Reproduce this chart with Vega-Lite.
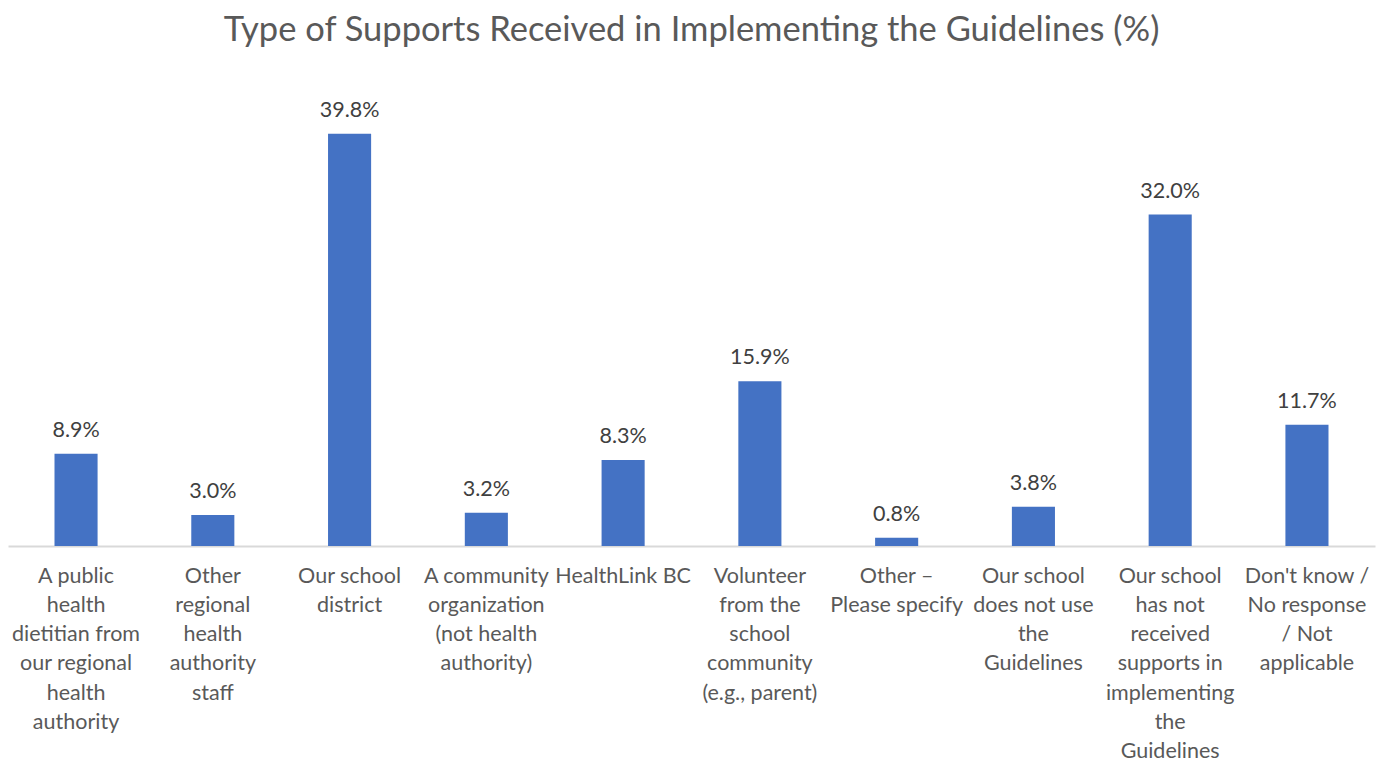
{
  "$schema": "https://vega.github.io/schema/vega-lite/v6.json",
  "width": 1367,
  "height": 466,
  "padding": {"left": 8, "right": 13, "top": 12, "bottom": 5},
  "background": "white",
  "title": {
    "text": "Type of Supports Received in Implementing the Guidelines (%)",
    "fontSize": 34.5,
    "font": "Lato",
    "fontWeight": "normal",
    "color": "#595959",
    "anchor": "middle",
    "offset": 32
  },
  "config": {"view": {"stroke": null}, "font": "Lato"},
  "data": {
    "values": [
      {"label": "A public|health|dietitian from|our regional|health|authority", "value": 8.9},
      {"label": "Other|regional|health|authority|staff", "value": 3.0},
      {"label": "Our school|district", "value": 39.8},
      {"label": "A community|organization|(not health|authority)", "value": 3.2},
      {"label": "HealthLink BC", "value": 8.3},
      {"label": "Volunteer|from the|school|community|(e.g., parent)", "value": 15.9},
      {"label": "Other –|Please specify", "value": 0.8},
      {"label": "Our school|does not use|the|Guidelines", "value": 3.8},
      {"label": "Our school|has not|received|supports in|implementing|the|Guidelines", "value": 32.0},
      {"label": "Don't know /|No response|/ Not|applicable", "value": 11.7}
    ]
  },
  "encoding": {
    "x": {
      "field": "label",
      "type": "nominal",
      "sort": null,
      "scale": {"paddingInner": 0.685, "paddingOuter": 0.34},
      "axis": {
        "title": null,
        "labelAngle": 0,
        "labelExpr": "split(datum.label, '|')",
        "labelFontSize": 21.5,
        "labelColor": "#595959",
        "labelLineHeight": 29.3,
        "labelBaseline": "top",
        "labelPadding": 19,
        "labelFont": "Lato",
        "ticks": false,
        "domainColor": "#D9D9D9",
        "domainWidth": 2,
        "labelLimit": 200
      }
    },
    "y": {
      "field": "value",
      "type": "quantitative",
      "scale": {"domain": [0, 45]},
      "axis": null
    }
  },
  "layer": [
    {"mark": {"type": "bar", "color": "#4472C4"}},
    {
      "transform": [{"calculate": "format(datum.value, '.1f') + '%'", "as": "pct"}],
      "mark": {"type": "text", "baseline": "bottom", "dy": -12, "fontSize": 21.5, "color": "#404040", "font": "Lato"},
      "encoding": {"text": {"field": "pct", "type": "nominal"}}
    }
  ]
}
